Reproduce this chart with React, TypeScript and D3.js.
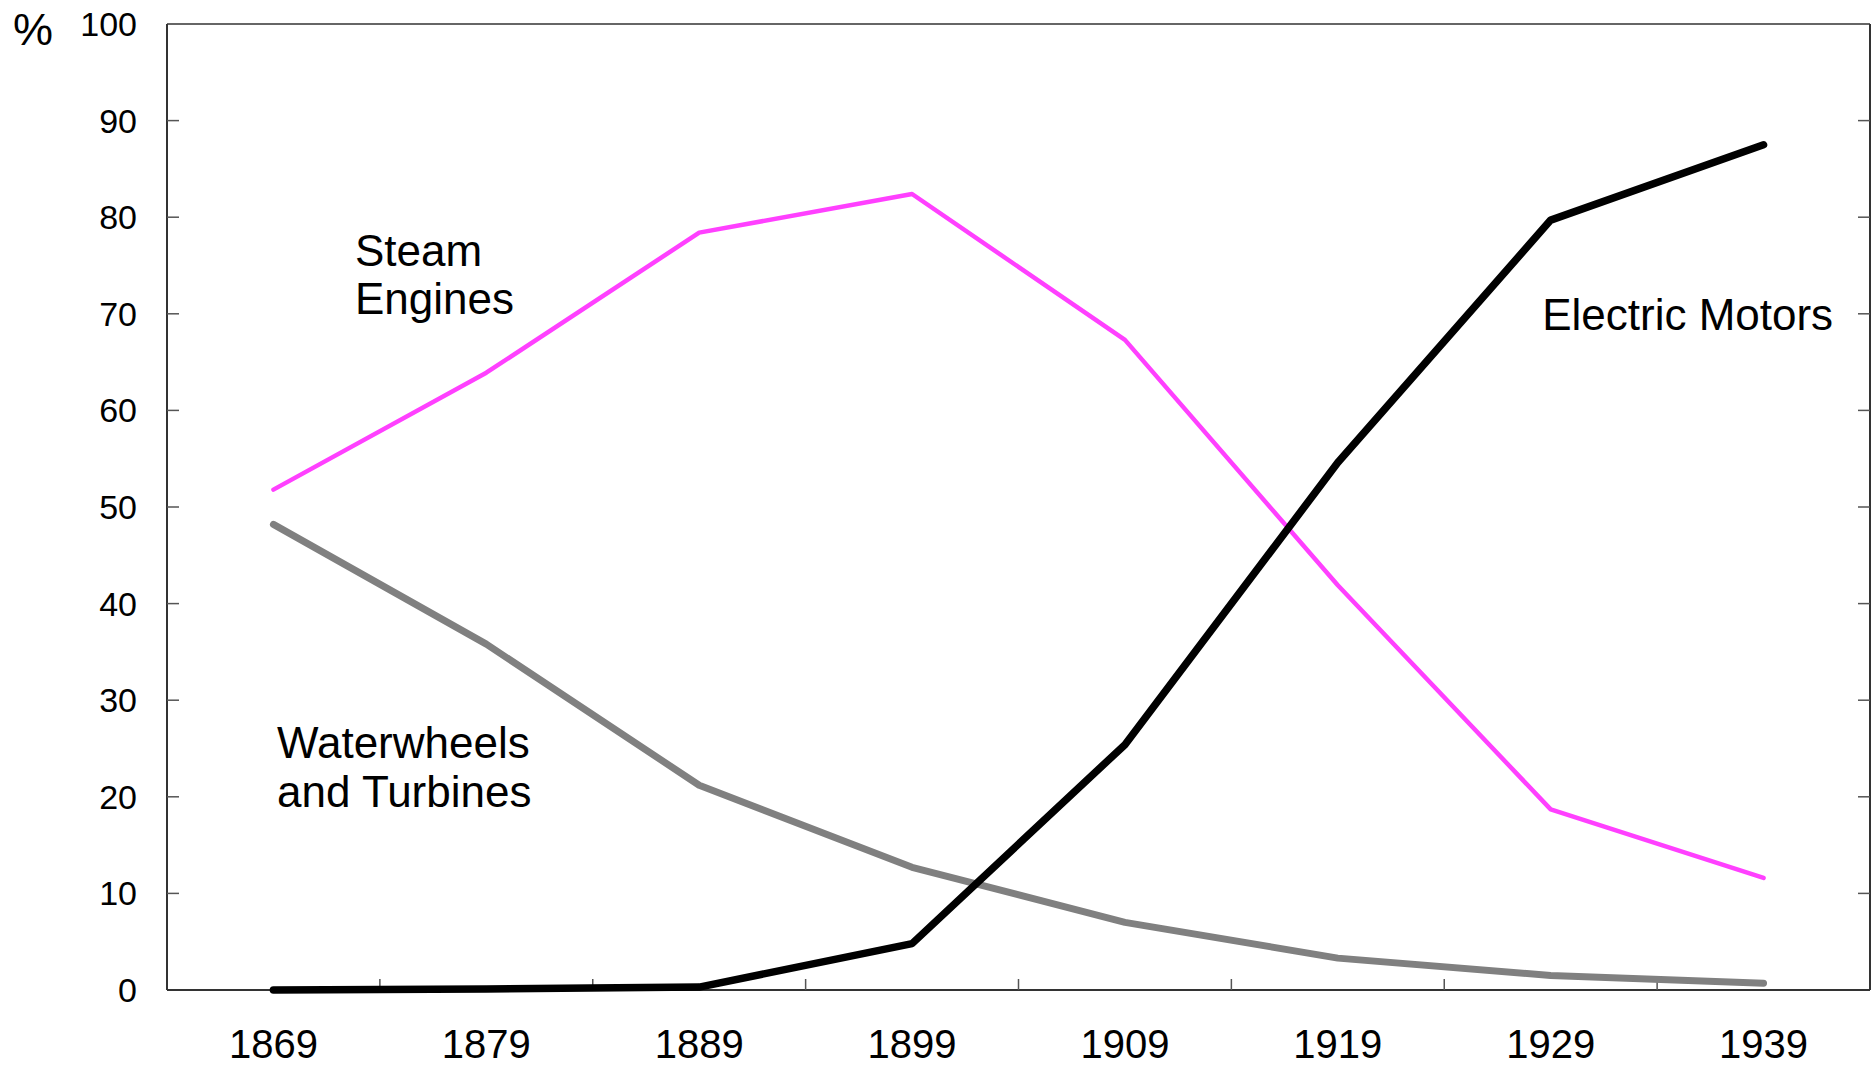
import * as React from 'react'
import * as d3 from 'd3'

const YEARS = ['1869', '1879', '1889', '1899', '1909', '1919', '1929', '1939']
const STEAM = [51.8, 63.9, 78.4, 82.4, 67.3, 41.9, 18.7, 11.6]
const WATER = [48.2, 35.8, 21.2, 12.7, 7.0, 3.3, 1.5, 0.7]
const ELECTRIC = [0, 0.1, 0.3, 4.8, 25.4, 54.6, 79.7, 87.5]
const Y_TICKS = [0, 10, 20, 30, 40, 50, 60, 70, 80, 90, 100]

// annotation text: x as (fractional) year index, y as value of the first line's baseline
const LABELS = [
    { lines: ['Steam', 'Engines'], at: 0.383, value: 75.0 },
    { lines: ['Waterwheels', 'and Turbines'], at: 0.017, value: 24.0 },
    { lines: ['Electric Motors'], at: 5.96, value: 68.3 },
]

const SERIES = [
    { name: 'water', values: WATER, color: '#808080', width: 7 },
    { name: 'steam', values: STEAM, color: '#ff40ff', width: 4.5 },
    { name: 'electric', values: ELECTRIC, color: '#000000', width: 7.5 },
]

export default function App() {
    const WIDTH = 1872
    const HEIGHT = 1068
    const LEFT = 167
    const RIGHT = 1870
    const TOP = 24
    const BOTTOM = 990
    const TICK = 12
    const FONT = '"Liberation Sans", Arial, Helvetica, sans-serif'

    const xBand = d3.scaleBand().domain(YEARS).range([LEFT, RIGHT]).padding(0)
    const bw = xBand.bandwidth()
    const xc = (year: string) => (xBand(year) as number) + bw / 2
    const xIdx = d3.scaleLinear().domain([0, 1]).range([xc(YEARS[0]), xc(YEARS[1])])
    const y = d3.scaleLinear().domain([0, 100]).range([BOTTOM, TOP])

    const line = d3.line<number>()
        .x((_, i) => xc(YEARS[i]))
        .y(d => y(d))

    const inner = Y_TICKS.filter(t => t > 0 && t < 100)

    return <svg width={WIDTH} height={HEIGHT} viewBox={`0 0 ${WIDTH} ${HEIGHT}`}
        style={{ position: 'absolute', left: 0, top: 0, background: '#fff' }} fontFamily={FONT}>
        <rect x={0} y={0} width={WIDTH} height={HEIGHT} fill="#fff" />

        {/* frame */}
        <line x1={LEFT} x2={RIGHT} y1={TOP} y2={TOP} stroke="#666" strokeWidth={2} />
        <line x1={LEFT} x2={RIGHT} y1={BOTTOM} y2={BOTTOM} stroke="#333" strokeWidth={2} />
        <line x1={LEFT} x2={LEFT} y1={TOP} y2={BOTTOM} stroke="#333" strokeWidth={2} />
        <line x1={RIGHT} x2={RIGHT} y1={TOP} y2={BOTTOM} stroke="#333" strokeWidth={2} />

        {/* y ticks, both sides, inward */}
        {inner.map(t =>
            <g key={t}>
                <line x1={LEFT} x2={LEFT + TICK} y1={y(t)} y2={y(t)} stroke="#555" strokeWidth={1.5} />
                <line x1={RIGHT - TICK} x2={RIGHT} y1={y(t)} y2={y(t)} stroke="#555" strokeWidth={1.5} />
            </g>
        )}
        {Y_TICKS.map(t =>
            <text key={t} x={137} y={y(t)} dy="0.35em" textAnchor="end" fontSize={34} fill="#000">{t}</text>
        )}
        <text x={13} y={y(100) + 5} dy="0.35em" fontSize={45} fill="#000">%</text>

        {/* x ticks at band boundaries */}
        {YEARS.slice(1).map(yr =>
            <line key={yr} x1={xBand(yr) as number} x2={xBand(yr) as number} y1={BOTTOM} y2={BOTTOM - 11} stroke="#555" strokeWidth={1.5} />
        )}
        {YEARS.map(yr =>
            <text key={yr} x={xc(yr)} y={1058} textAnchor="middle" fontSize={40} fill="#000">{yr}</text>
        )}

        {/* series */}
        {SERIES.map(s =>
            <path key={s.name} d={line(s.values) as string} fill="none" stroke={s.color}
                strokeWidth={s.width} strokeLinecap="round" strokeLinejoin="round" />
        )}

        {/* annotations */}
        {LABELS.map((l, i) =>
            <text key={i} x={xIdx(l.at)} y={y(l.value)} fontSize={44} fill="#000">
                {l.lines.map((t, j) =>
                    <tspan key={j} x={xIdx(l.at)} dy={j === 0 ? 0 : '1.1em'}>{t}</tspan>
                )}
            </text>
        )}
    </svg>
}
